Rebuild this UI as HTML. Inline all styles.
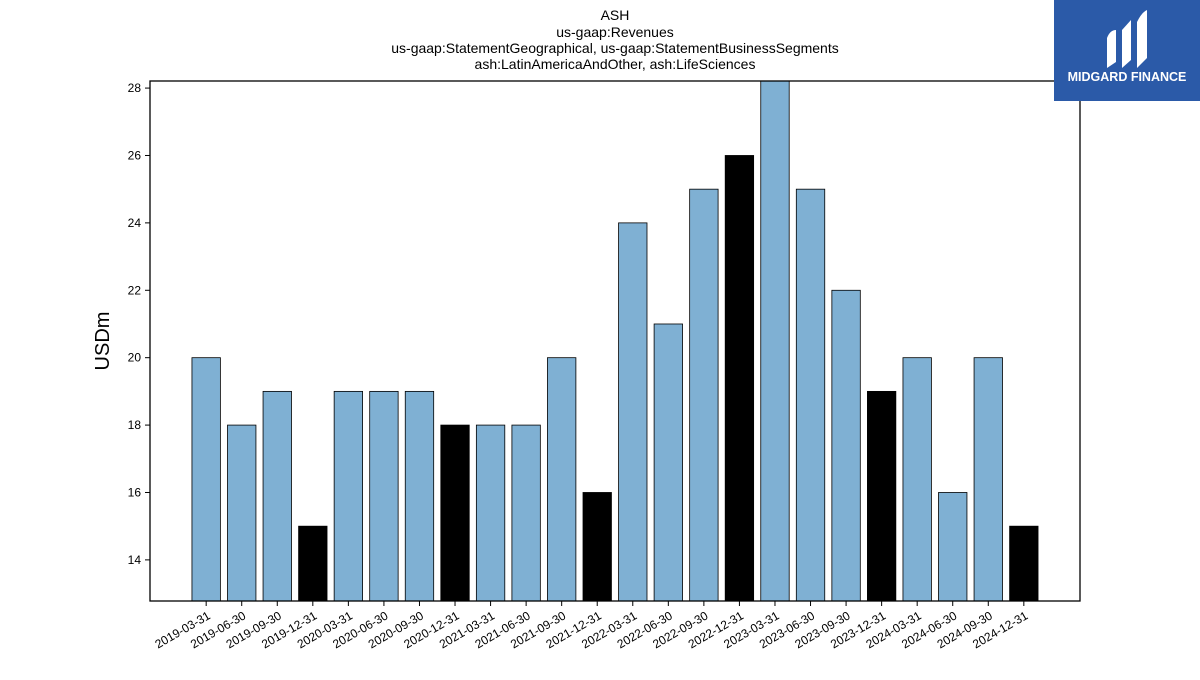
<!DOCTYPE html>
<html><head><meta charset="utf-8"><style>
body{margin:0;background:#fff;}
svg text{font-family:"Liberation Sans","DejaVu Sans",sans-serif;}
</style></head><body>
<svg id="chart" width="1200" height="675" xmlns="http://www.w3.org/2000/svg">
<g font-size="14" text-anchor="middle" fill="#000">
<text x="615" y="20">ASH</text>
<text x="615" y="37">us-gaap:Revenues</text>
<text x="615" y="53">us-gaap:StatementGeographical, us-gaap:StatementBusinessSegments</text>
<text x="615" y="69">ash:LatinAmericaAndOther, ash:LifeSciences</text>
</g>
<defs><clipPath id="pc"><rect x="150" y="81" width="930" height="520"/></clipPath></defs>
<g id="bars" clip-path="url(#pc)"></g>
<g id="yticks"></g>
<g id="xticks"></g>
<rect x="150" y="81" width="930" height="520" fill="none" stroke="#000" stroke-width="1.3"/>
<text x="0" y="0" transform="translate(109,341) rotate(-90)" font-size="20" text-anchor="middle">USDm</text>
<g>
<rect x="1054" y="0" width="146" height="101" fill="#2b5aa8"/>
<path d="M1107 68 L1107 38 Q1110 30 1116 30 L1116 62 Z M1122 68 L1122 30 L1131 20 L1131 60 Z M1137 68 L1137 22 Q1142 12 1147 10 L1147 58 Z" fill="#fff"/>
<text x="1127" y="81" font-size="12.5" font-weight="bold" fill="#fff" text-anchor="middle">MIDGARD FINANCE</text>
</g>
</svg>
<script>
const categories=["2019-03-31","2019-06-30","2019-09-30","2019-12-31","2020-03-31","2020-06-30","2020-09-30","2020-12-31","2021-03-31","2021-06-30","2021-09-30","2021-12-31","2022-03-31","2022-06-30","2022-09-30","2022-12-31","2023-03-31","2023-06-30","2023-09-30","2023-12-31","2024-03-31","2024-06-30","2024-09-30","2024-12-31"];
const values=[20,18,19,15,19,19,19,18,18,18,20,16,24,21,25,26,29,25,22,19,20,16,20,15];
const yTicks=[14,16,18,20,22,24,26,28];
const yMin=12.78, yMax=28.21;
const NS="http://www.w3.org/2000/svg";
const X0=150,X1=1080,Y0=601,Y1=81;
const n=categories.length;
function xs(i){return X0+(i+1.58)*(X1-X0)/(n-1+3.16);}
function ys(v){return Y0-(v-yMin)*(Y0-Y1)/(yMax-yMin);}
const bw=(X1-X0)/(n-1+3.16)*0.8;
const bars=document.getElementById('bars'),xt=document.getElementById('xticks'),yt=document.getElementById('yticks');
categories.forEach((c,i)=>{
 const r=document.createElementNS(NS,'rect');
 
 
 const cx=xs(i),top=ys(values[i]);
 r.setAttribute('x',cx-bw/2);r.setAttribute('y',top);r.setAttribute('width',bw);r.setAttribute('height',Y0-top);
 r.setAttribute('fill',c.endsWith('12-31')?'#000':'#7fb0d3');r.setAttribute('stroke','#000');r.setAttribute('stroke-width','0.8');
 bars.appendChild(r);
 const l=document.createElementNS(NS,'line');
 
 
 l.setAttribute('x1',cx);l.setAttribute('x2',cx);l.setAttribute('y1',Y0);l.setAttribute('y2',Y0+5);l.setAttribute('stroke','#000');
 xt.appendChild(l);
 const t=document.createElementNS(NS,'text');
 
 
 t.setAttribute('font-size','12');t.setAttribute('text-anchor','end');
 t.setAttribute('transform','translate('+(cx+5)+','+(Y0+17)+') rotate(-30)');
 t.textContent=c;xt.appendChild(t);
});
yTicks.forEach(v=>{
 const y=ys(v);
 const l=document.createElementNS(NS,'line');
 
 
 l.setAttribute('x1',X0-5);l.setAttribute('x2',X0);l.setAttribute('y1',y);l.setAttribute('y2',y);l.setAttribute('stroke','#000');
 yt.appendChild(l);
 const t=document.createElementNS(NS,'text');
 
 
 t.setAttribute('font-size','12');t.setAttribute('text-anchor','end');
 t.setAttribute('x',X0-9);t.setAttribute('y',y+4);t.textContent=v;yt.appendChild(t);
});
</script>
</body></html>
